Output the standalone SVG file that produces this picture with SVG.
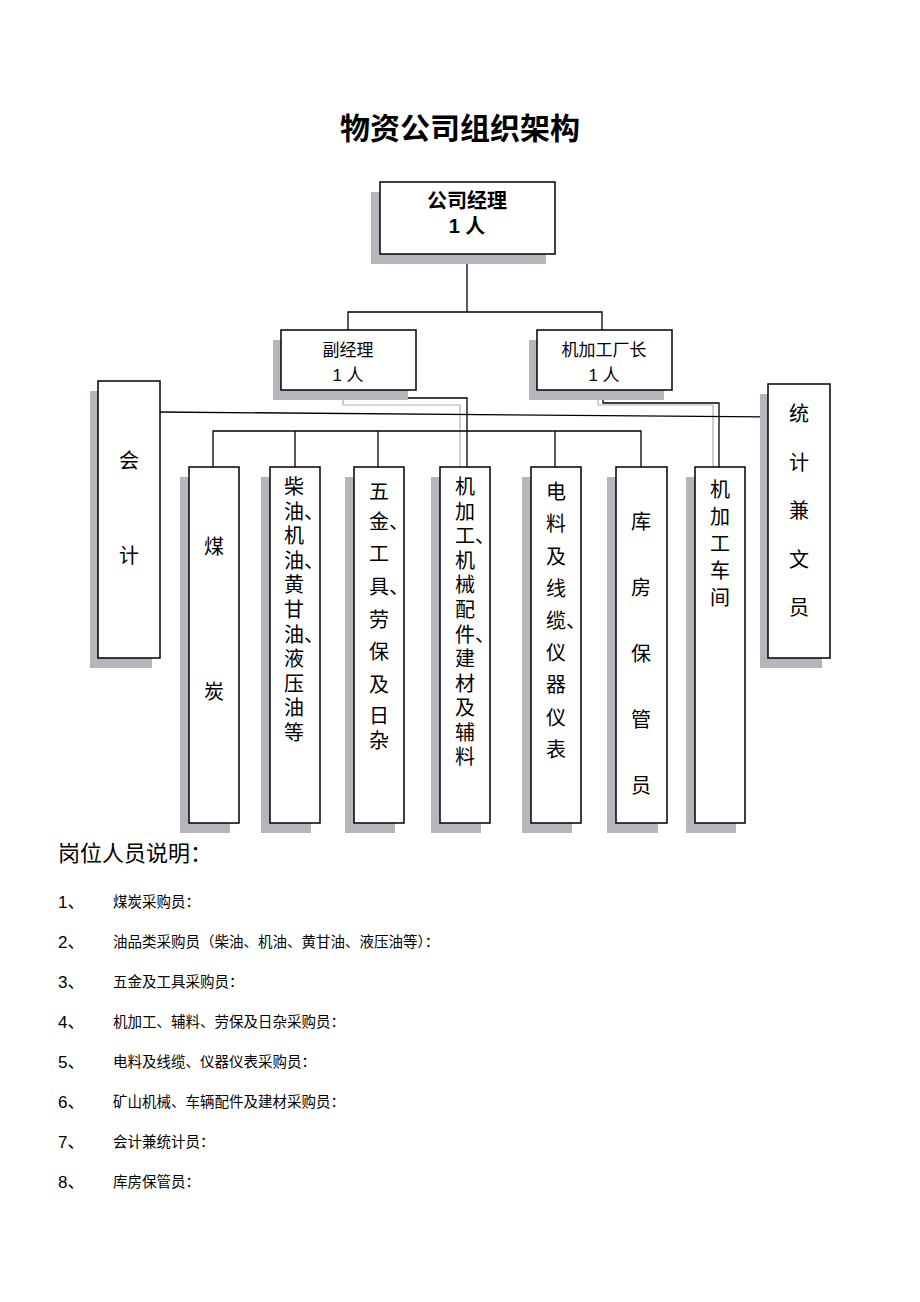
<svg xmlns="http://www.w3.org/2000/svg" width="920" height="1302" viewBox="0 0 920 1302">
<style>
text{font-family:"Liberation Sans","Noto Sans CJK SC",sans-serif;fill:#000}
.sh{fill:#b8b4bc}
.bx{fill:#fff;stroke:#000;stroke-width:1.5}
.v{font-size:20px}
.ln{fill:none;stroke:#000;stroke-width:1.3}
.gl{fill:none;stroke:#b0b0b0;stroke-width:1.2}
.n{font-size:17px}
.d{font-size:14.5px}
</style>
<rect width="920" height="1302" fill="#fff"/>
<text x="460" y="139" text-anchor="middle" font-size="30" font-weight="bold">物资公司组织架构</text>
<g id="connectors">
<path class="ln" d="M467 254V312M348 330V312H602V330"/>
<path class="gl" d="M343 390V405H460V467M598 390V405H713V467"/>
<path class="ln" d="M347 390V398H467V467M603 390V403H719V467"/>
<path class="ln" d="M160 412L768 417"/>
<path class="ln" d="M213 467V431H641V467M295 431V467M378 431V467M555 431V467"/>
</g>
<g id="n-top"><rect class="sh" x="371" y="192" width="175" height="72"/><rect class="bx" x="380" y="182" width="175" height="72"/>
<text x="467" y="208" text-anchor="middle" font-size="20" font-weight="bold">公司经理</text><text x="467" y="233" text-anchor="middle" font-size="20" font-weight="bold">1 人</text></g>
<g id="n-fu"><rect class="sh" x="273" y="340" width="135" height="60"/><rect class="bx" x="281" y="330" width="135" height="60"/>
<text x="348" y="356" text-anchor="middle" font-size="17">副经理</text><text x="348" y="381" text-anchor="middle" font-size="17">1 人</text></g>
<g id="n-jc"><rect class="sh" x="529" y="340" width="135" height="60"/><rect class="bx" x="537" y="330" width="135" height="60"/>
<text x="604" y="356" text-anchor="middle" font-size="17">机加工厂长</text><text x="604" y="381" text-anchor="middle" font-size="17">1 人</text></g>
<g id="n-kj"><rect class="sh" x="90" y="391" width="62" height="277"/><rect class="bx" x="98" y="381" width="62" height="277"/>
<text class="v" x="129" y="468" text-anchor="middle">会</text><text class="v" x="129" y="563" text-anchor="middle">计</text></g>
<g id="n-tj"><rect class="sh" x="760" y="394" width="62" height="274"/><rect class="bx" x="768" y="384" width="62" height="274"/>
<text class="v" text-anchor="middle"><tspan x="799" y="421">统</tspan><tspan x="799" y="470">计</tspan><tspan x="799" y="518">兼</tspan><tspan x="799" y="567">文</tspan><tspan x="799" y="615">员</tspan></text></g>
<g id="n-mt"><rect class="sh" x="180" y="477" width="50" height="356"/><rect class="bx" x="189" y="467" width="50" height="356"/>
<text class="v" x="214" y="554" text-anchor="middle">煤</text><text class="v" x="214" y="699" text-anchor="middle">炭</text></g>
<g id="n-cy"><rect class="sh" x="261" y="477" width="50" height="356"/><rect class="bx" x="270" y="467" width="50" height="356"/>
<text class="v"><tspan x="284" y="494">柴</tspan><tspan x="284" y="519">油、</tspan><tspan x="284" y="543">机</tspan><tspan x="284" y="568">油、</tspan><tspan x="284" y="592">黄</tspan><tspan x="284" y="617">甘</tspan><tspan x="284" y="642">油、</tspan><tspan x="284" y="666">液</tspan><tspan x="284" y="691">压</tspan><tspan x="284" y="715">油</tspan><tspan x="284" y="740">等</tspan></text></g>
<g id="n-wj"><rect class="sh" x="345" y="477" width="50" height="356"/><rect class="bx" x="354" y="467" width="50" height="356"/>
<text class="v"><tspan x="369" y="499">五</tspan><tspan x="369" y="529">金、</tspan><tspan x="369" y="561">工</tspan><tspan x="369" y="594">具、</tspan><tspan x="369" y="627">劳</tspan><tspan x="369" y="659">保</tspan><tspan x="369" y="692">及</tspan><tspan x="369" y="723">日</tspan><tspan x="369" y="748">杂</tspan></text></g>
<g id="n-jx"><rect class="sh" x="431" y="477" width="50" height="356"/><rect class="bx" x="440" y="467" width="50" height="356"/>
<text class="v"><tspan x="455" y="494">机</tspan><tspan x="455" y="519">加</tspan><tspan x="455" y="543">工、</tspan><tspan x="455" y="568">机</tspan><tspan x="455" y="592">械</tspan><tspan x="455" y="617">配</tspan><tspan x="455" y="642">件、</tspan><tspan x="455" y="666">建</tspan><tspan x="455" y="691">材</tspan><tspan x="455" y="715">及</tspan><tspan x="455" y="740">辅</tspan><tspan x="455" y="764">料</tspan></text></g>
<g id="n-dl"><rect class="sh" x="522" y="477" width="50" height="356"/><rect class="bx" x="531" y="467" width="50" height="356"/>
<text class="v"><tspan x="546" y="499">电</tspan><tspan x="546" y="531">料</tspan><tspan x="546" y="564">及</tspan><tspan x="546" y="596">线</tspan><tspan x="546" y="628">缆、</tspan><tspan x="546" y="660">仪</tspan><tspan x="546" y="692">器</tspan><tspan x="546" y="725">仪</tspan><tspan x="546" y="757">表</tspan></text></g>
<g id="n-kf"><rect class="sh" x="607" y="477" width="51" height="356"/><rect class="bx" x="616" y="467" width="51" height="356"/>
<text class="v" text-anchor="middle"><tspan x="641" y="529">库</tspan><tspan x="641" y="595">房</tspan><tspan x="641" y="661">保</tspan><tspan x="641" y="727">管</tspan><tspan x="641" y="793">员</tspan></text></g>
<g id="n-cj"><rect class="sh" x="686" y="477" width="50" height="356"/><rect class="bx" x="695" y="467" width="50" height="356"/>
<text class="v"><tspan x="710" y="497">机</tspan><tspan x="710" y="524">加</tspan><tspan x="710" y="551">工</tspan><tspan x="710" y="578">车</tspan><tspan x="710" y="605">间</tspan></text></g>
<text x="58" y="861" font-size="22">岗位人员说明：</text>
<g><text x="58" y="908" class="n">1、</text><text x="58" y="948" class="n">2、</text><text x="58" y="988" class="n">3、</text><text x="58" y="1028" class="n">4、</text><text x="58" y="1068" class="n">5、</text><text x="58" y="1108" class="n">6、</text><text x="58" y="1148" class="n">7、</text><text x="58" y="1188" class="n">8、</text></g>
<text x="113" y="907" class="d">煤炭采购员：</text>
<text x="113" y="947" class="d">油品类采购员（柴油、机油、黄甘油、液压油等）：</text>
<text x="113" y="987" class="d">五金及工具采购员：</text>
<text x="113" y="1027" class="d">机加工、辅料、劳保及日杂采购员：</text>
<text x="113" y="1067" class="d">电料及线缆、仪器仪表采购员：</text>
<text x="113" y="1107" class="d">矿山机械、车辆配件及建材采购员：</text>
<text x="113" y="1147" class="d">会计兼统计员：</text>
<text x="113" y="1187" class="d">库房保管员：</text>
</svg>
